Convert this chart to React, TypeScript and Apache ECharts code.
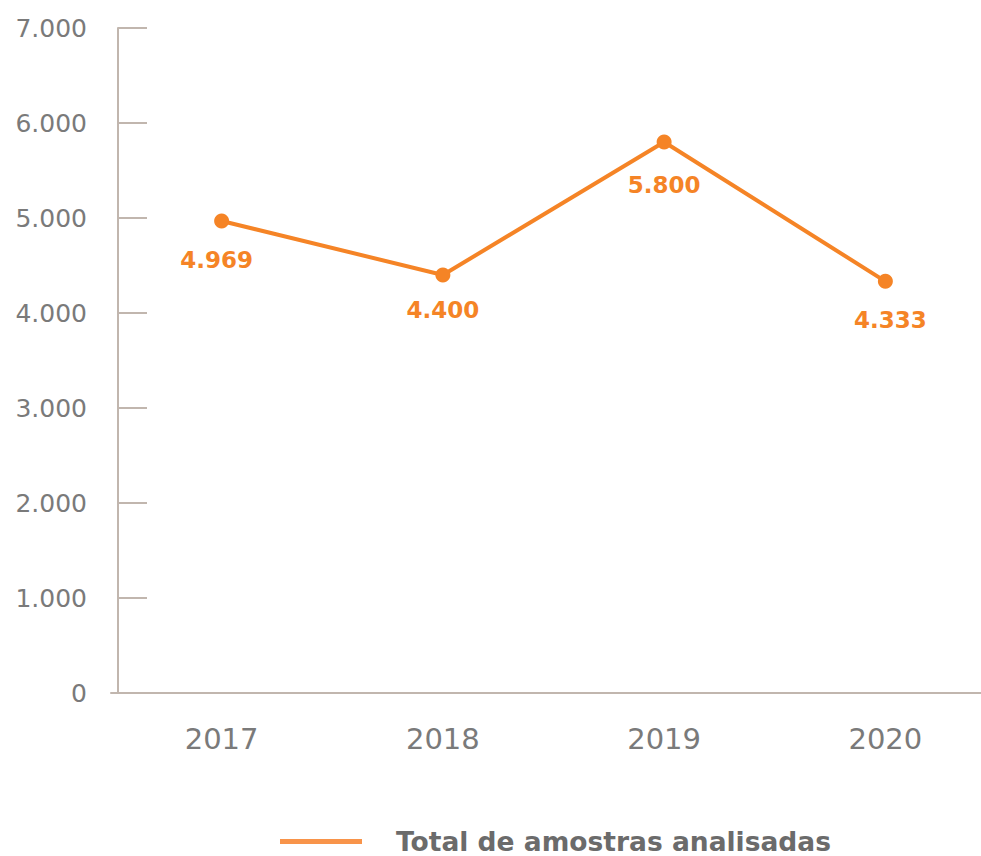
import React, { useEffect, useRef } from "react";
import * as echarts from "echarts";

const categories = ["2017", "2018", "2019", "2020"];
const values = [4969, 4400, 5800, 4333];
const seriesName = "Total de amostras analisadas";
const yMin = 0;
const yMax = 7000;
const yInterval = 1000;

const FONT = "'DejaVu Sans', 'Open Sans', sans-serif";
const fmt = (v: number) => {
  const s = String(Math.round(v));
  return s.replace(/\B(?=(\d{3})+(?!\d))/g, ".");
};

export default function App() {
  const ref = useRef<HTMLDivElement>(null);
  useEffect(() => {
    if (!ref.current) return;
    const chart = echarts.init(ref.current, undefined, { renderer: "svg" });
    const labelOffsets = [
      [-5, 0],
      [0, -4],
      [0, 4],
      [5, 0],
    ];
    chart.setOption({
      animation: false,
      backgroundColor: "#ffffff",
      grid: { left: 111, right: 4, top: 28, bottom: 163 },
      legend: {
        left: 280,
        top: 828,
        padding: 0,
        icon: "rect",
        itemWidth: 82,
        itemHeight: 5,
        itemStyle: { color: "#f8944a" },
        textStyle: {
          fontFamily: FONT,
          fontSize: 26.5,
          fontWeight: 600,
          color: "#6b6b6b",
          padding: [0, 0, 0, 29],
        },
        data: [seriesName],
      },
      xAxis: {
        type: "category",
        data: categories,
        boundaryGap: true,
        axisLine: { show: true, lineStyle: { color: "#c1b6ae", width: 2 } },
        axisTick: { show: false },
        axisLabel: {
          margin: 31,
          fontFamily: FONT,
          fontSize: 29,
          color: "#7a7a7a",
        },
        splitLine: { show: false },
      },
      yAxis: {
        type: "value",
        min: yMin,
        max: yMax,
        interval: yInterval,
        offset: -7,
        axisLine: { show: true, lineStyle: { color: "#c1b6ae", width: 2 } },
        axisTick: {
          show: true,
          inside: true,
          length: 29,
          lineStyle: { color: "#c1b6ae", width: 2 },
        },
        axisLabel: {
          margin: 31,
          fontFamily: FONT,
          fontSize: 25,
          color: "#7a7a7a",
          formatter: (v: number) => fmt(v),
        },
        splitLine: { show: false },
      },
      series: [
        {
          name: seriesName,
          type: "line",
          data: values.map((v, i) => ({
            value: v,
            label: { offset: labelOffsets[i] },
          })),
          symbol: "circle",
          symbolSize: 15,
          lineStyle: { color: "#f58426", width: 4 },
          itemStyle: { color: "#f58426" },
          label: {
            show: true,
            position: "bottom",
            distance: 20,
            fontFamily: FONT,
            fontSize: 23,
            fontWeight: 700,
            color: "#f58426",
            formatter: (p: any) => fmt(p.value),
          },
        },
      ],
    });
    return () => chart.dispose();
  }, []);
  return (
    <div
      style={{
        position: "absolute",
        left: 0,
        top: 0,
        width: 981,
        height: 856,
        overflow: "hidden",
      }}
    >
      <div ref={ref} style={{ width: 1000, height: 856 }} />
    </div>
  );
}
